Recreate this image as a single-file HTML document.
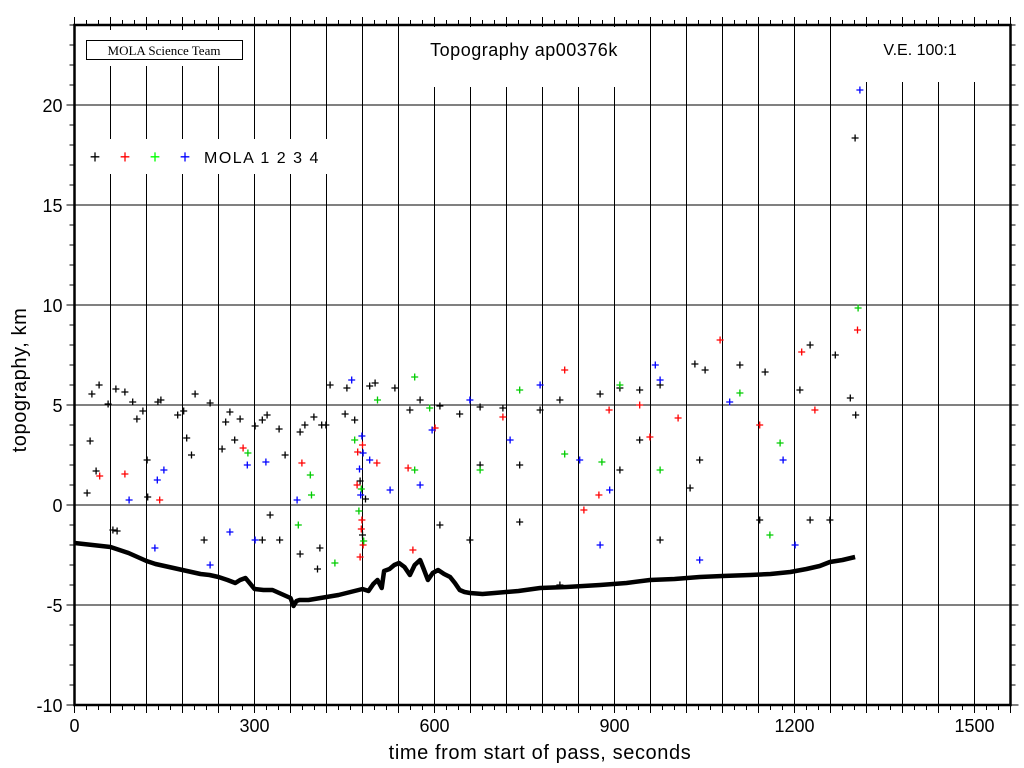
<!DOCTYPE html>
<html><head><meta charset="utf-8"><style>
html,body{margin:0;padding:0;background:#fff;}
svg{display:block;font-family:"Liberation Sans",sans-serif;}
</style></head><body>
<svg id="chart" width="1024" height="768" viewBox="0 0 1024 768">
<g id="grid"></g>
<g id="ground"></g>
<g id="pts"></g>
<g id="boxes">
<rect x="80" y="30" width="170" height="36" fill="#fff"/>
<rect x="86.5" y="40.5" width="156" height="19" fill="#fff" stroke="#000" stroke-width="1"/>
<text x="164" y="55" font-family="Liberation Serif, serif" font-size="13" text-anchor="middle">MOLA Science Team</text>
<rect x="420" y="27" width="205" height="60" fill="#fff"/>
<text x="524" y="56" font-size="18" text-anchor="middle" letter-spacing="0.5">Topography ap00376k</text>
<rect x="860" y="27" width="125" height="55" fill="#fff"/>
<text x="920" y="55" font-size="16" text-anchor="middle">V.E. 100:1</text>
<rect x="80" y="139" width="258" height="35" fill="#fff"/>
<g>
<text x="95" y="163" font-size="18" text-anchor="middle" fill="#000">+</text>
<text x="125" y="163" font-size="18" text-anchor="middle" fill="#f00">+</text>
<text x="155" y="163" font-size="18" text-anchor="middle" fill="#0f0">+</text>
<text x="185" y="163" font-size="18" text-anchor="middle" fill="#00f">+</text>
<text x="204" y="163" font-size="16" letter-spacing="1.5">MOLA 1 2 3 4</text>
</g>
</g>
<g id="axes"></g>
<text x="540" y="759" font-size="20" text-anchor="middle" letter-spacing="0.6">time from start of pass, seconds</text>
<text transform="translate(26,380) rotate(-90)" font-size="20" text-anchor="middle" letter-spacing="0.6">topography, km</text>
</svg>
<script>
const xTicks=[0,300,600,900,1200,1500];
const yTicks=[-10,-5,0,5,10,15,20];
const groundT=[0,15,30,45,60,75,90,105,120,135,150,165,180,195,210,225,240,255,268,276,285,300,315,330,345,360,365,370,375,390,400,420,440,460,480,490,498,505,512,516,525,533,541,550,559,567,576,582,589,597,606,616,626,634,642,650,659,680,700,740,776,820,876,920,959,1000,1042,1080,1126,1160,1193,1220,1242,1259,1280,1301];
const groundV=[-1.9,-1.95,-2.0,-2.05,-2.1,-2.25,-2.4,-2.6,-2.8,-2.95,-3.05,-3.15,-3.25,-3.35,-3.45,-3.5,-3.6,-3.75,-3.9,-3.75,-3.65,-4.2,-4.25,-4.25,-4.45,-4.65,-5.05,-4.8,-4.75,-4.75,-4.7,-4.6,-4.5,-4.35,-4.2,-4.3,-3.95,-3.75,-4.15,-3.3,-3.2,-3.0,-2.9,-3.1,-3.5,-3.0,-2.75,-3.2,-3.75,-3.4,-3.25,-3.45,-3.6,-3.9,-4.25,-4.35,-4.4,-4.45,-4.4,-4.3,-4.15,-4.1,-4.0,-3.9,-3.75,-3.7,-3.6,-3.55,-3.5,-3.45,-3.35,-3.2,-3.05,-2.85,-2.75,-2.6];
const ch1T=[21,26,29,41,36,56,69,84,104,114,121,97,139,144,122,64,71,172,182,187,195,201,226,216,246,252,267,259,276,301,313,321,341,326,351,376,384,399,412,313,342,409,376,405,419,426,451,454,467,492,501,534,559,576,609,642,676,714,776,809,876,909,942,976,1034,1051,1109,1151,1209,1226,1268,1293,1302,1301,1042,1026,909,942,742,676,742,659,976,1142,1226,1259,809,609,476,480,485];
const ch1V=[0.6,3.2,5.55,6.0,1.7,5.05,5.8,5.65,4.3,4.7,2.25,5.15,5.15,5.25,0.4,-1.25,-1.3,4.5,4.7,3.35,2.5,5.55,5.1,-1.75,2.8,4.15,3.25,4.65,4.3,3.95,4.25,4.5,3.8,-0.5,2.5,3.65,4.0,4.4,4.0,-1.75,-1.75,-2.15,-2.45,-3.2,4.0,6.0,4.55,5.85,4.25,5.95,6.1,5.85,4.75,5.25,4.95,4.55,4.9,4.85,4.75,5.25,5.55,5.85,5.75,6.0,7.05,6.75,7.0,6.65,5.75,8.0,7.5,5.35,4.5,18.35,2.25,0.85,1.75,3.25,2.0,2.0,-0.85,-1.75,-1.75,-0.75,-0.75,-0.75,-4.0,-1.0,1.2,-1.5,0.3];
const ch2T=[84,42,142,281,379,472,479,471,481,504,556,601,714,817,891,942,959,1006,1076,1142,1212,1234,1305,564,849,874,476,478,480];
const ch2V=[1.55,1.45,0.25,2.85,2.1,2.65,-0.75,1.0,-2.0,2.1,1.85,3.85,4.4,6.75,4.75,5.0,3.4,4.35,8.25,4.0,7.65,4.75,8.75,-2.25,-0.25,0.5,-2.6,-1.2,3.0];
const ch3T=[289,373,395,467,505,567,592,567,676,742,817,879,909,976,1109,1176,1159,1306,434,393,474,478,482];
const ch3V=[2.6,-1.0,0.5,3.25,5.25,6.4,4.85,1.75,1.75,5.75,2.55,2.15,6.0,1.75,5.6,3.1,-1.5,9.85,-2.9,1.5,-0.3,0.8,-1.8];
const ch4T=[138,91,134,149,319,288,301,371,462,479,492,526,576,596,659,726,776,842,876,892,968,976,1042,1092,1181,1201,1309,259,226,475,477,481];
const ch4V=[1.25,0.25,-2.15,1.75,2.15,2.0,-1.75,0.25,6.25,3.45,2.25,0.75,1.0,3.75,5.25,3.25,6.0,2.25,-2.0,0.75,7.0,6.25,-2.75,5.15,2.25,-2.0,20.75,-1.35,-3.0,1.8,0.5,2.6];

const X0=74.5,X1=1010.5,TMAX=1560,Y0=705,YMIN=-10,YMAX=24;
const Y1=Y0-(YMAX-YMIN)*20;
const sx=t=>X0+(t/TMAX)*(X1-X0);
const sy=v=>Y0-(v-YMIN)*20;
const NS='http://www.w3.org/2000/svg';
function mk(tag,attrs,parent){const e=document.createElementNS(NS,tag);for(const k in attrs)e.setAttribute(k,attrs[k]);parent.appendChild(e);return e;}

const grid=document.getElementById('grid');
for(let t=60;t<TMAX;t+=60){
  const l=mk('line',{x1:sx(t),x2:sx(t),y1:Y1,y2:Y0,stroke:'#000','stroke-width':1},grid);
  
  
}
for(let v=-5;v<YMAX;v+=5){
  const l=mk('line',{x1:X0,x2:X1,y1:sy(v),y2:sy(v),stroke:'#000','stroke-width':1},grid);
  
  
}

const ground=document.getElementById('ground');
const gp=mk('polyline',{points:groundT.map((t,i)=>sx(t)+','+sy(groundV[i])).join(' '),fill:'none',stroke:'#000','stroke-width':4.5,'stroke-linejoin':'round'},ground);



const pts=document.getElementById('pts');
function plus(ts,vs,color,name){
  ts.forEach((t,i)=>{
    const x=sx(t),y=sy(vs[i]);
    const p=mk('path',{d:`M${x-3.5},${y}H${x+3.5}M${x},${y-3.5}V${y+3.5}`,stroke:color,'stroke-width':1.3,fill:'none'},pts);
    
    
  });
}
plus(ch1T,ch1V,'#000','mola1-point');
plus(ch2T,ch2V,'#f00','mola2-point');
plus(ch3T,ch3V,'#0c0','mola3-point');
plus(ch4T,ch4V,'#00f','mola4-point');

const axes=document.getElementById('axes');
const fr=mk('rect',{x:X0,y:Y1,width:X1-X0,height:Y0-Y1,fill:'none',stroke:'#000','stroke-width':2.5},axes);


for(let t=0;t<=TMAX;t+=20){
  const major=t%60===0, len=major?8:5;
  const a=mk('line',{x1:sx(t),x2:sx(t),y1:Y0,y2:Y0+len,stroke:'#000','stroke-width':1},axes);
  
  
  const b=mk('line',{x1:sx(t),x2:sx(t),y1:Y1,y2:Y1-len,stroke:'#000','stroke-width':1},axes);
  
  
}
for(let v=YMIN;v<=YMAX;v+=1){
  const major=v%5===0, len=major?8:5;
  const a=mk('line',{x1:X0,x2:X0-len,y1:sy(v),y2:sy(v),stroke:'#000','stroke-width':1},axes);
  
  
  const b=mk('line',{x1:X1,x2:X1+len,y1:sy(v),y2:sy(v),stroke:'#000','stroke-width':1},axes);
  
  
}
xTicks.forEach(t=>{
  const e=mk('text',{x:sx(t),y:Y0+27,'font-size':18,'text-anchor':'middle'},axes);
  e.textContent=t;
  
  
});
yTicks.forEach(v=>{
  const e=mk('text',{x:X0-12,y:sy(v)+7,'font-size':18,'text-anchor':'end'},axes);
  e.textContent=v;
  
  
});
</script>
</body></html>
